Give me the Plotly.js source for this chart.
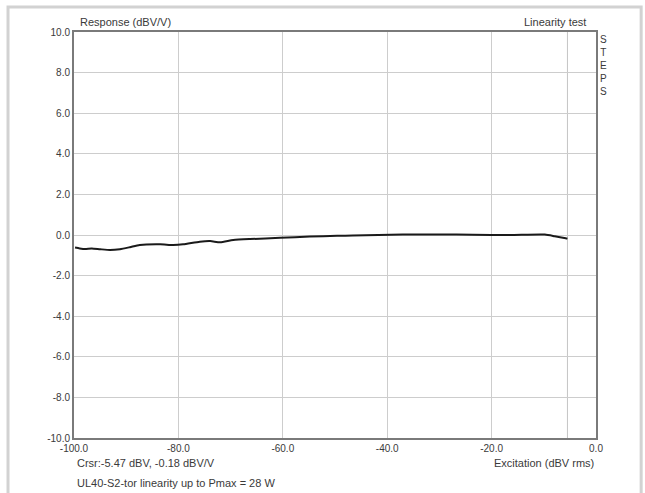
<!DOCTYPE html>
<html>
<head>
<meta charset="utf-8">
<script src="https://cdn.plot.ly/plotly-3.0.1.min.js"></script>
<style>html,body{margin:0;padding:0;background:#fff;}#chart{width:645px;height:493px;}</style>
</head>
<body>
<div id="chart"></div>
<script>
// Excitation (dBV rms) and response (dBV/V)
const excitation = [-99.8, -98.9, -97.9, -96.6, -95.0, -93.1, -91.2, -89.3, -87.4, -83.5, -81.0, -79.1, -75.9, -73.9, -72.0, -69.5, -66.3, -60.5, -54.8, -49.6, -46.6, -37.0, -29.9, -23.6, -16.5, -9.8, -7.9, -5.8, -5.47];
const response   = [-0.62, -0.66, -0.69, -0.66, -0.70, -0.74, -0.70, -0.60, -0.49, -0.46, -0.49, -0.46, -0.33, -0.30, -0.36, -0.25, -0.20, -0.14, -0.08, -0.04, -0.03, 0.02, 0.03, 0.01, 0.00, 0.02, -0.06, -0.16, -0.18];

const xTickVals = [-100, -80, -60, -40, -20, 0];
const xTickText = ["-100.0", "-80.0", "-60.0", "-40.0", "-20.0", "0.0"];
const yTickVals = [-10, -8, -6, -4, -2, 0, 2, 4, 6, 8, 10];
const yTickText = ["-10.0", "-8.0", "-6.0", "-4.0", "-2.0", "0.0", "2.0", "4.0", "6.0", "8.0", "10.0"];
const cursorX = -5.47;

const FONT = "Liberation Sans, Arial, sans-serif";
const TXT = "#3a3a3a";

const trace = {
  x: excitation, y: response, type: "scatter", mode: "lines",
  line: {color: "#1a1a1a", width: 2, shape: "spline", smoothing: 0.6},
  hoverinfo: "none", showlegend: false
};

const ann = (text, x, y, xanchor, yanchor, extra) => Object.assign({
  text: text, xref: "paper", yref: "paper", x: x, y: y,
  xanchor: xanchor, yanchor: yanchor, showarrow: false,
  font: {family: FONT, size: 11, color: TXT}
}, extra || {});

const layout = {
  width: 645, height: 493,
  margin: {l: 74, r: 49, t: 32, b: 55},
  paper_bgcolor: "#ffffff", plot_bgcolor: "#ffffff",
  font: {family: FONT, size: 10, color: TXT},
  xaxis: {
    range: [-100, 0], tickvals: xTickVals, ticktext: xTickText,
    showgrid: true, gridcolor: "#cdcdcd", gridwidth: 1,
    zeroline: false, showline: true, linecolor: "#7a7a7a", linewidth: 2, mirror: true,
    ticks: "", tickfont: {family: FONT, size: 10, color: TXT}, fixedrange: true
  },
  yaxis: {
    range: [-10, 10], tickvals: yTickVals, ticktext: yTickText,
    showgrid: true, gridcolor: "#cdcdcd", gridwidth: 1,
    zeroline: false, showline: true, linecolor: "#7a7a7a", linewidth: 2, mirror: true,
    ticks: "", tickfont: {family: FONT, size: 10, color: TXT}, fixedrange: true
  },
  shapes: [
    {type: "line", xref: "x", yref: "paper", x0: cursorX, x1: cursorX, y0: 0, y1: 1,
     line: {color: "#c4c4c4", width: 1}, layer: "below"},
    {type: "rect", xref: "paper", yref: "paper", x0: -0.1264, x1: 1.0865, y0: -0.16, y1: 1.0616,
     line: {color: "#d2d2d2", width: 3}, fillcolor: "rgba(0,0,0,0)"}
  ],
  annotations: [
    ann("Response (dBV/V)", 0.008, 1.005, "left", "bottom"),
    ann("Linearity test", 0.985, 1.005, "right", "bottom"),
    ann("S<br>T<br>E<br>P<br>S", 1.0, 1.0, "left", "top", {xshift: 2, font: {family: FONT, size: 10, color: TXT}}),
    ann("Crsr:-5.47 dBV, -0.18 dBV/V", 0.002, -0.042, "left", "top"),
    ann("Excitation (dBV rms)", 1.0, -0.042, "right", "top"),
    ann("UL40-S2-tor linearity up to Pmax = 28 W", 0.002, -0.092, "left", "top")
  ]
};

Plotly.newPlot("chart", [trace], layout, {displayModeBar: false, staticPlot: true});
</script>
</body>
</html>
